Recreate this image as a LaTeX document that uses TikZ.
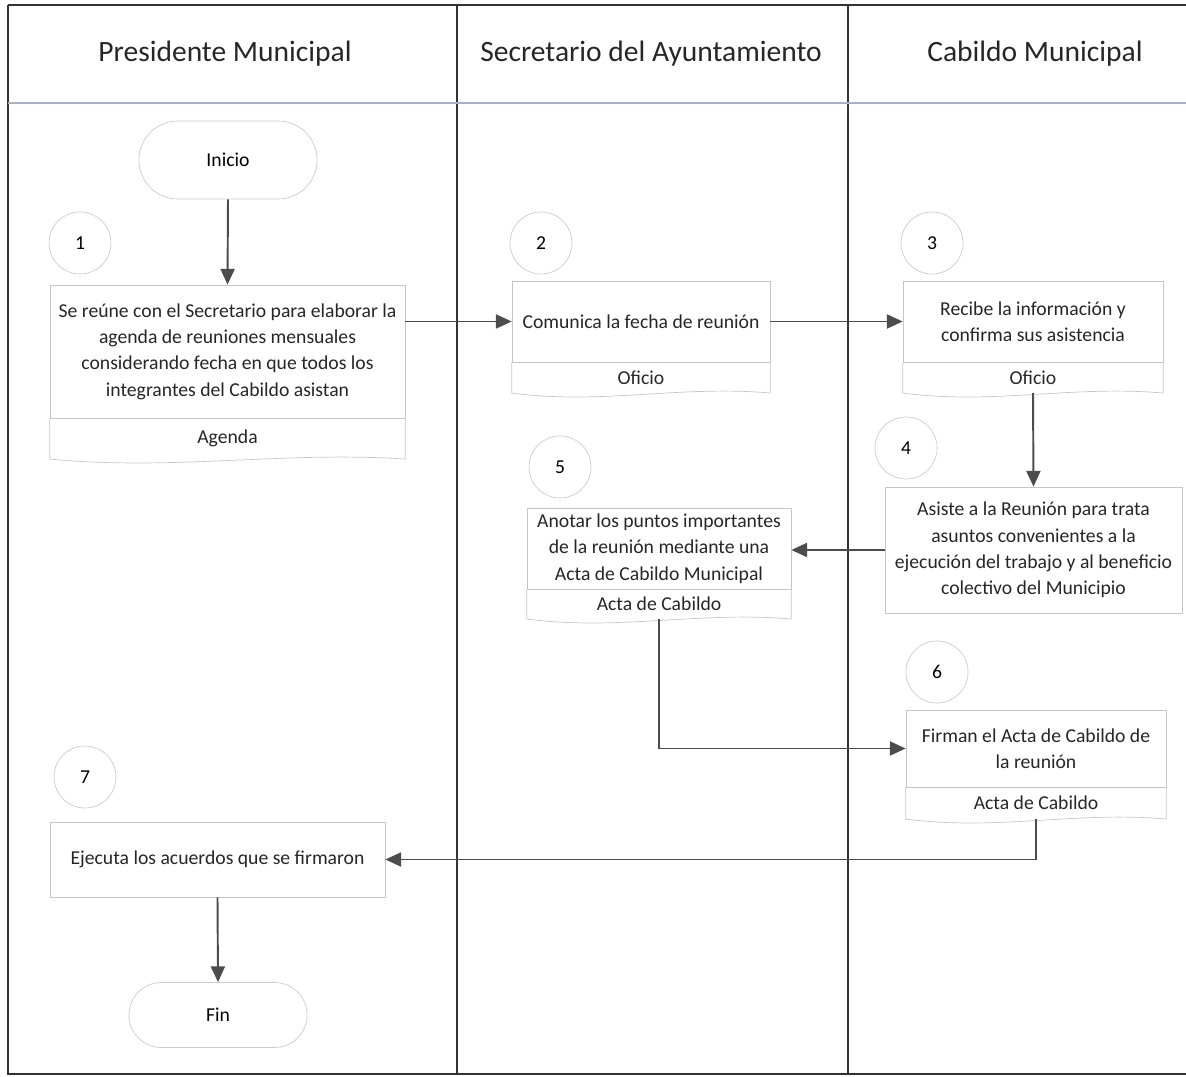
\documentclass[tikz,border=0pt]{standalone}
\usepackage{fontspec}
\setmainfont{Carlito}
\usetikzlibrary{positioning, shapes.misc, arrows.meta, calc}

\definecolor{headline}{RGB}{165,180,200}
\tikzset{
  lane/.style={draw=black!80, line width=0.7pt},
  proc/.style={draw=gray!45, fill=white, align=center, inner sep=2pt,
    font=\fontsize{11.2}{15}\selectfont, text=black!85},
  doclabel/.style={align=center, inner sep=0pt,
    font=\fontsize{11.2}{15}\selectfont, text=black!85},
  stepnum/.style={circle, draw=gray!40, minimum size=1.24cm,
    font=\fontsize{11.2}{15}\selectfont},
  terminal/.style={rounded rectangle, draw=gray!40, minimum width=3.8cm,
    font=\fontsize{11.2}{15}\selectfont},
  header/.style={font=\fontsize{16.8}{19}\selectfont, text=black!85},
  flow/.style={draw=black!70, line width=1.1pt, -{Triangle[width=8pt,length=9pt]}},
}
% wavy foot of a document box
\newcommand{\docfoot}[1]{%
  \draw[draw=gray!45] (#1.north west) -- (#1.south west)
    .. controls ($(#1.south west)!0.35!(#1.south east)+(0,12)$)
    and ($(#1.south west)!0.65!(#1.south east)+(0,-8)$) .. (#1.south east)
    -- (#1.north east);}

\begin{document}
\begin{tikzpicture}[x=0.02cm, y=-0.02cm]
  \useasboundingbox (0,0) rectangle (1186,1077);
  % frame and lanes
  \draw[lane, line width=1.6pt] (8,5) -- (1186,5);
  \draw[lane] (8,5) -- (8,1074) -- (1186,1074);
  \draw[lane] (457,5) -- (457,1074);
  \draw[lane] (848,5) -- (848,1074);
  \draw[draw=headline, line width=1.6pt] (8,103) -- (1186,103);
  \node[header] (hd1) at (225,54) {Presidente Municipal};
  \node[header] (hd2) at (651,54) {Secretario del Ayuntamiento};
  \node[header] (hd3) at (1035,54) {Cabildo Municipal};

  % steps
  \node[terminal, minimum height=1.56cm] (ini) at (228,160) {Inicio};
  \node[stepnum] (n1) at (80,243) {1};
  \node[proc, minimum width=7.1cm, minimum height=2.66cm] (p1) at (227.5,351.5)
    {Se reúne con el Secretario para elaborar la\\ agenda de reuniones mensuales\\
     considerando fecha en que todos los\\ integrantes del Cabildo asistan};
  \node[doclabel, minimum width=7.1cm, minimum height=0.8cm] (p1l) [below=0pt of p1] {Agenda};
  \docfoot{p1l}

  \node[stepnum] (n2) at (541,243) {2};
  \node[proc, minimum width=5.16cm, minimum height=1.62cm] (p2) at (641,321.5)
    {Comunica la fecha de reunión};
  \node[doclabel, minimum width=5.16cm, minimum height=0.6cm] (p2l) [below=0pt of p2] {Oficio};
  \docfoot{p2l}

  \node[stepnum] (n3) at (932,243) {3};
  \node[proc, minimum width=5.2cm, minimum height=1.62cm] (p3) at (1033,321.5)
    {Recibe la información y\\ confirma sus asistencia};
  \node[doclabel, minimum width=5.2cm, minimum height=0.6cm] (p3l) [below=0pt of p3] {Oficio};
  \docfoot{p3l}

  \node[stepnum] (n4) at (906,448) {4};
  \node[proc, minimum width=5.94cm, minimum height=2.52cm] (p4) at (1033.5,550)
    {Asiste a la Reunión para trata\\ asuntos convenientes a la\\
     ejecución del trabajo y al beneficio\\ colectivo del Municipio};

  \node[stepnum] (n5) at (560,467) {5};
  \node[proc, minimum width=5.28cm, minimum height=1.62cm] (p5) at (659,548.5)
    {Anotar los puntos importantes\\ de la reunión mediante una\\ Acta de Cabildo Municipal};
  \node[doclabel, minimum width=5.28cm, minimum height=0.58cm] (p5l) [below=0pt of p5] {Acta de Cabildo};
  \docfoot{p5l}

  \node[stepnum] (n6) at (937,672) {6};
  \node[proc, minimum width=5.2cm, minimum height=1.54cm] (p6) at (1036,748.5)
    {Firman el Acta de Cabildo de\\ la reunión};
  \node[doclabel, minimum width=5.2cm, minimum height=0.62cm] (p6l) [below=0pt of p6] {Acta de Cabildo};
  \docfoot{p6l}

  \node[stepnum] (n7) at (85,777) {7};
  \node[proc, minimum width=6.7cm, minimum height=1.5cm] (p7) at (217.5,859.5)
    {Ejecuta los acuerdos que se firmaron};
  \node[terminal, minimum height=1.3cm] (fin) at (218,1015) {Fin};

  % connectors
  \draw[flow] (ini.south) -- (p1.north);
  \draw[flow] (p1.east |- p2.west) -- (p2.west);
  \draw[flow] (p2.east) -- (p3.west);
  \draw[flow] (p3l.south) -- (p4.north);
  \draw[flow] (p4.west) -- (p4.west -| p5.east);
  \draw[flow] (p5l.south) |- (p6.west);
  \draw[flow] (p6l.south) |- (p7.east);
  \draw[flow] (p7.south) -- (fin.north);
\end{tikzpicture}
\end{document}
